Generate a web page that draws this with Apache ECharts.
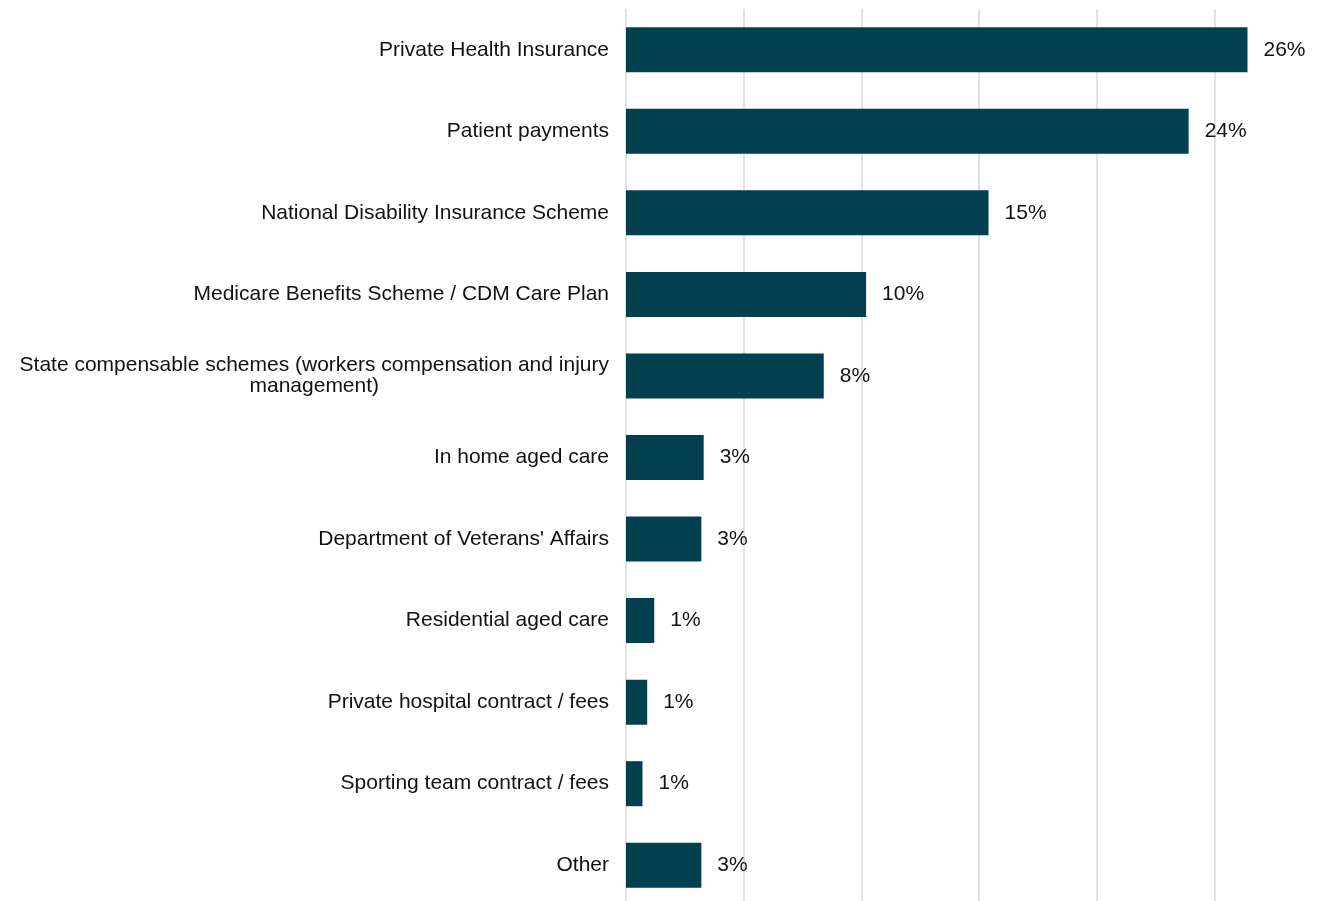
<!DOCTYPE html>
<html>
<head>
<meta charset="utf-8">
<title>Funding sources</title>
<script src="https://cdn.jsdelivr.net/npm/echarts@6/dist/echarts.min.js"></script>
<style>
  html, body { margin: 0; padding: 0; background: #ffffff; }
  #chart { width: 1324px; height: 901px; }
</style>
</head>
<body>
<div id="chart"></div>
<script>
// Funding sources, share of respondents (%), top to bottom
const categories = [
  'Private Health Insurance',
  'Patient payments',
  'National Disability Insurance Scheme',
  'Medicare Benefits Scheme / CDM Care Plan',
  'State compensable schemes (workers compensation and injury management)',
  'In home aged care',
  "Department of Veterans' Affairs",
  'Residential aged care',
  'Private hospital contract / fees',
  'Sporting team contract / fees',
  'Other'
];
const shares = [26.4, 23.9, 15.4, 10.2, 8.4, 3.3, 3.2, 1.2, 0.9, 0.7, 3.2];

// Category labels that break onto a second line
const wrapped = {
  'State compensable schemes (workers compensation and injury management)':
    ['State compensable schemes (workers compensation and injury', 'management)']
};

const FONT = '"Liberation Sans", Arial, Helvetica, sans-serif';

const chart = echarts.init(document.getElementById('chart'), null, { renderer: 'canvas' });

chart.setOption({
  animation: false,
  backgroundColor: '#ffffff',
  grid: { left: 626, right: 0, top: 9, height: 897, containLabel: false, outerBoundsMode: 'none' },
  xAxis: {
    type: 'value',
    min: 0,
    max: 29.65,          // visible extent stops just short of the 30% gridline
    interval: 5,
    axisLine: { show: false },
    axisTick: { show: false },
    axisLabel: { show: false },
    splitLine: { show: true, showMaxLine: false, lineStyle: { color: '#d9d9d9', width: 1.5 } }
  },
  yAxis: {
    type: 'category',
    inverse: true,
    data: categories,
    axisLine: { show: false },
    axisTick: { show: false },
    axisLabel: {
      margin: 17,
      color: '#111111',
      fontFamily: FONT,
      fontSize: 21,
      lineHeight: 21,
      formatter: function (name) {
        const lines = wrapped[name];
        if (lines) return lines.map(l => '{c|' + l + '}').join('\n');
        return name;
      },
      rich: {
        c: { align: 'center', color: '#111111', fontFamily: FONT, fontSize: 21, lineHeight: 21 }
      }
    }
  },
  series: [{
    type: 'bar',
    data: shares,
    barWidth: 45,
    itemStyle: { color: '#02404f' },
    label: {
      show: true,
      position: 'right',
      distance: 16,
      color: '#111111',
      fontFamily: FONT,
      fontSize: 21,
      formatter: p => Math.round(p.value) + '%'
    }
  }]
});
</script>
</body>
</html>
